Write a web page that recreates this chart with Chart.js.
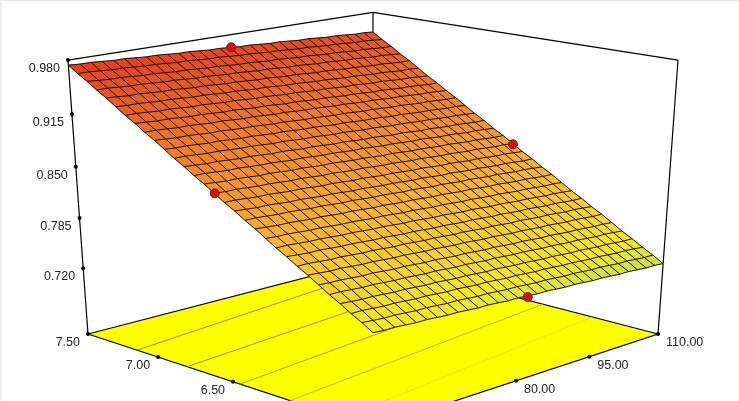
<!DOCTYPE html>
<html>
<head>
    <title>Response surface</title>
    <script src="https://cdn.jsdelivr.net/npm/chart.js"></script>
    <style>
        html, body { margin: 0; padding: 0; background: #fff; }
        canvas { display: block; }
        body::after {
            content: ""; position: fixed; left: 0; top: 0; right: 0; bottom: 0;
            border-top: 1px solid #e6e6e6; border-left: 2px solid #eeeeee;
        }
    </style>
</head>
<body>
    <canvas id="myChart" width="739" height="401"></canvas>
    <script>
        // axis ranges and ticks
        const aMax = 7.5, aMin = 5.65;
        const bMin = 53.4, bMax = 110;
        const zFloor = 0.632, zTop = 0.98;
        const aTicks = [7.5, 7.0, 6.5];
        const aLabels = ['7.50', '7.00', '6.50'];
        const bTicks = [110, 95, 80];
        const bLabels = ['110.00', '95.00', '80.00'];
        const zTicks = [0.98, 0.915, 0.85, 0.785, 0.72];
        const zLabels = ['0.980', '0.915', '0.850', '0.785', '0.720'];

        // design points on the surface
        const pointA = [7.5, 6.573, 6.572, 5.65];
        const pointB = [81.9, 110, 53.4, 81.7];
        const pointZ = [0.964, 0.839, 0.86, 0.7345];

        // floor contours: A where each one leaves the B min side and the B max side
        const contourStartA = [7.147, 6.803, 6.455, 6.141, 5.826];
        const contourEndA = [7.363, 6.992, 6.666, 6.347, 6.04];
        const contourColors = ['#9a8a30', '#a08c28', '#b09c20', '#c4b010', '#e8de00'];

        // response in thousandths, rows go from A max to A min, columns from B min to B max
        const zRows = [
            [974,973,973,972,971,971,970,969,969,968,967,967,966,965,965,964,963,963,962,961,961,960,959,959,958,957,957,956,955,955,954],
            [966,966,965,964,964,963,962,962,961,960,960,959,958,958,957,956,956,955,954,954,953,952,952,951,950,950,949,948,948,947,946],
            [959,958,957,957,956,955,955,954,953,953,952,951,951,950,949,949,948,947,947,946,945,945,944,943,943,942,941,941,940,939,939],
            [951,951,950,949,949,948,947,947,946,945,945,944,943,943,942,941,941,940,939,939,938,937,937,936,935,935,934,933,933,932,931],
            [944,943,942,942,941,940,940,939,938,938,937,936,936,935,934,934,933,932,932,931,930,930,929,928,928,927,926,926,925,924,924],
            [936,935,935,934,933,933,932,931,931,930,929,929,928,927,927,926,925,925,924,923,923,922,921,921,920,919,919,918,917,917,916],
            [928,928,927,926,926,925,924,924,923,922,922,921,920,920,919,918,918,917,916,916,915,914,914,913,912,912,911,910,910,909,908],
            [921,920,919,919,918,917,917,916,915,915,914,913,913,912,911,911,910,909,909,908,907,907,906,905,905,904,903,903,902,901,901],
            [913,913,912,911,911,910,909,909,908,907,907,906,905,905,904,903,903,902,901,901,900,899,899,898,897,897,896,895,895,894,893],
            [906,905,904,904,903,902,902,901,900,900,899,898,898,897,896,896,895,894,894,893,892,892,891,890,890,889,888,888,887,886,886],
            [898,897,897,896,895,895,894,893,893,892,891,891,890,889,889,888,887,887,886,885,885,884,883,883,882,881,881,880,879,879,878],
            [890,890,889,888,888,887,886,886,885,884,884,883,882,882,881,880,880,879,878,878,877,876,876,875,874,874,873,872,872,871,870],
            [883,882,881,881,880,879,879,878,877,877,876,875,875,874,873,873,872,871,871,870,869,869,868,867,867,866,865,865,864,863,863],
            [875,875,874,873,873,872,871,871,870,869,869,868,867,867,866,865,865,864,863,863,862,861,861,860,859,859,858,857,857,856,855],
            [868,867,866,866,865,864,864,863,862,862,861,860,860,859,858,858,857,856,856,855,854,854,853,852,852,851,850,850,849,848,848],
            [860,859,859,858,857,857,856,855,855,854,853,853,852,851,851,850,849,849,848,847,847,846,845,845,844,843,843,842,841,841,840],
            [852,852,851,850,850,849,848,848,847,846,846,845,844,844,843,842,842,841,840,840,839,838,838,837,836,836,835,834,834,833,832],
            [845,844,843,843,842,841,841,840,839,839,838,837,837,836,835,835,834,833,833,832,831,831,830,829,829,828,827,827,826,825,825],
            [837,837,836,835,835,834,833,833,832,831,831,830,829,829,828,827,827,826,825,825,824,823,823,822,821,821,820,819,819,818,817],
            [830,829,828,828,827,826,826,825,824,824,823,822,822,821,820,820,819,818,818,817,816,816,815,814,814,813,812,812,811,810,810],
            [822,821,821,820,819,819,818,817,817,816,815,815,814,813,813,812,811,811,810,809,809,808,807,807,806,805,805,804,803,803,802],
            [814,814,813,812,812,811,810,810,809,808,808,807,806,806,805,804,804,803,802,802,801,800,800,799,798,798,797,796,796,795,794],
            [807,806,805,805,804,803,803,802,801,801,800,799,799,798,797,797,796,795,795,794,793,793,792,791,791,790,789,789,788,787,787],
            [799,799,798,797,797,796,795,795,794,793,793,792,791,791,790,789,789,788,787,787,786,785,785,784,783,783,782,781,781,780,779],
            [792,791,790,790,789,788,788,787,786,786,785,784,784,783,782,782,781,780,780,779,778,778,777,776,776,775,774,774,773,772,772],
            [784,783,783,782,781,781,780,779,779,778,777,777,776,775,775,774,773,773,772,771,771,770,769,769,768,767,767,766,765,765,764],
            [776,776,775,774,774,773,772,772,771,770,770,769,768,768,767,766,766,765,764,764,763,762,762,761,760,760,759,758,758,757,756],
            [769,768,767,767,766,765,765,764,763,763,762,761,761,760,759,759,758,757,757,756,755,755,754,753,753,752,751,751,750,749,749],
            [761,761,760,759,759,758,757,757,756,755,755,754,753,753,752,751,751,750,749,749,748,747,747,746,745,745,744,743,743,742,741],
            [754,753,752,752,751,750,750,749,748,748,747,746,746,745,744,744,743,742,742,741,740,740,739,738,738,737,736,736,735,734,734],
            [746,745,745,744,743,743,742,741,741,740,739,739,738,737,737,736,735,735,734,733,733,732,731,731,730,729,729,728,727,727,726]
        ];

        // surface colour ramp
        const rampZ = [0.726, 0.74, 0.75, 0.76, 0.8, 0.85, 0.9, 0.95, 0.974];
        const rampColors = [[200,222,70],[225,230,55],[250,232,30],[242,222,44],[247,194,48],[243,156,48],[238,122,42],[226,84,36],[234,60,26]];

        function colorFor(z) {
            let k = 0;
            while (k < rampZ.length - 2 && z > rampZ[k + 1]) k++;
            const t = Math.min(1, Math.max(0, (z - rampZ[k]) / (rampZ[k + 1] - rampZ[k])));
            const c = rampColors[k].map((v, n) => Math.round(v + (rampColors[k + 1][n] - v) * t));
            return `rgb(${c[0]},${c[1]},${c[2]})`;
        }

        // fixed camera of the 3D view, takes the unit cube to the flat chart plane
        function view(u, v, w) {
            const e = u - v, h = u + v - 1;
            const d = 1 - 0.119 * e - 0.0656 * w;
            return { x: 373 + 285 * h / d, y: (334 + 43 * e - 277.9 * w) / d };
        }
        const uOf = a => (aMax - a) / (aMax - aMin);
        const vOf = b => (b - bMin) / (bMax - bMin);
        const wOf = z => (z - zFloor) / (zTop - zFloor);
        const place = (a, b, z) => view(uOf(a), vOf(b), wOf(z));

        const datasets = [];
        const lineSet = (data, color, width, order) => ({
            data: data, showLine: true, borderColor: color, borderWidth: width,
            pointRadius: 0, fill: false, order: order
        });

        // floor
        datasets.push({
            data: [place(aMax, bMin, zFloor), place(aMax, bMax, zFloor), place(aMin, bMax, zFloor), place(aMin, bMin, zFloor), place(aMax, bMin, zFloor)],
            showLine: true, borderColor: '#000', borderWidth: 1.2, backgroundColor: '#ffff00',
            fill: 'shape', pointRadius: 0, order: 10
        });
        contourStartA.forEach((a, n) => {
            datasets.push(lineSet([place(a, bMin, zFloor), place(contourEndA[n], bMax, zFloor)], contourColors[n], 1, 9));
        });

        // box edges
        datasets.push(lineSet([place(aMax, bMin, zTop), place(aMax, bMax, zTop), place(aMin, bMax, zTop)], '#000', 1.2, 8));
        datasets.push(lineSet([place(aMax, bMin, zFloor), place(aMax, bMin, zTop)], '#000', 1.2, 8));
        datasets.push(lineSet([place(aMin, bMax, zFloor), place(aMin, bMax, zTop)], '#000', 1.2, 8));
        datasets.push(lineSet([place(aMax, bMax, zFloor), place(aMax, bMax, zTop)], '#000', 1.2, 8));

        // surface cells first, then the mesh over them so no neighbour paints over a line
        const corner = (r, c) => view(r / 30, c / 30, wOf(zRows[r][c] / 1000));
        for (let i = 0; i < zRows.length - 1; i++) {
            for (let j = 0; j < zRows[i].length - 1; j++) {
                const mean = (zRows[i][j] + zRows[i + 1][j] + zRows[i][j + 1] + zRows[i + 1][j + 1]) / 4000;
                const fillColor = colorFor(mean);
                datasets.push({
                    data: [corner(i, j), corner(i, j + 1), corner(i + 1, j + 1), corner(i + 1, j), corner(i, j)],
                    showLine: true, borderColor: fillColor, borderWidth: 0.5, backgroundColor: fillColor,
                    fill: 'shape', pointRadius: 0, order: 6
                });
            }
        }
        zRows.forEach((row, i) => {
            datasets.push(lineSet(row.map((z, j) => corner(i, j)), '#1e0e06', 1, 5));
        });
        zRows[0].forEach((z, j) => {
            datasets.push(lineSet(zRows.map((row, i) => corner(i, j)), '#1e0e06', 1, 5));
        });

        // tick dots
        const tickPoints = [
            ...zTicks.map(z => place(aMax, bMin, z)),
            ...aTicks.map(a => place(a, bMin, zFloor)),
            ...bTicks.map(b => place(aMin, b, zFloor))
        ];
        datasets.push({ data: tickPoints, pointRadius: 2, pointBackgroundColor: '#000', pointBorderWidth: 0, order: 2 });

        // design points
        datasets.push({
            data: pointA.map((a, n) => place(a, pointB[n], pointZ[n])),
            pointStyle: 'circle', pointRadius: 4.5, pointBackgroundColor: '#d01212',
            pointBorderColor: '#8c1010', pointBorderWidth: 1, order: 1
        });

        // tick labels sit next to their tick, so they follow the scales
        const tickText = {
            id: 'tickText',
            afterDatasetsDraw(chart) {
                const ctx = chart.ctx, sx = chart.scales.x, sy = chart.scales.y;
                const put = (p, text, dx, dy, align) => {
                    ctx.textAlign = align;
                    ctx.fillText(text, sx.getPixelForValue(p.x) + dx, sy.getPixelForValue(p.y) + dy);
                };
                ctx.save();
                ctx.font = '12.5px "Liberation Sans", Arial, sans-serif';
                ctx.fillStyle = '#222';
                ctx.textBaseline = 'middle';
                zTicks.forEach((z, n) => put(place(aMax, bMin, z), zLabels[n], -8, 8.5, 'right'));
                aTicks.forEach((a, n) => put(place(a, bMin, zFloor), aLabels[n], -8, 8.5, 'right'));
                bTicks.forEach((b, n) => put(place(aMin, b, zFloor), bLabels[n], 8, 8.5, 'left'));
                ctx.restore();
            }
        };

        new Chart(document.getElementById('myChart').getContext('2d'), {
            type: 'scatter',
            data: { datasets: datasets },
            plugins: [tickText],
            options: {
                responsive: false,
                animation: false,
                events: [],
                layout: { padding: 0, autoPadding: false },
                plugins: { legend: { display: false }, tooltip: { enabled: false } },
                scales: {
                    x: { type: 'linear', display: false, min: 0, max: 739 },
                    y: { type: 'linear', display: false, min: 0, max: 401, reverse: true }
                }
            }
        });
    </script>
</body>
</html>
